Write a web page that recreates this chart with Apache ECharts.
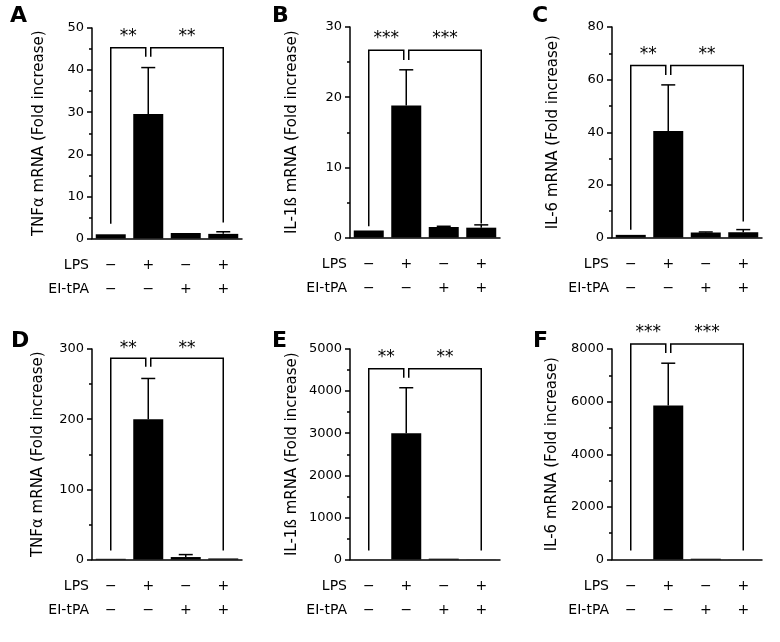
<!DOCTYPE html>
<html>
<head>
<meta charset="utf-8">
<script src="https://cdn.jsdelivr.net/npm/echarts@6/dist/echarts.min.js"></script>
<style>
  html, body { margin: 0; padding: 0; background: #fff; }
  #chart { width: 780px; height: 642px; }
</style>
</head>
<body>
<div id="chart"></div>
<script>
// ---- data ----
const categories = ['Control', 'LPS', 'EI-tPA', 'LPS + EI-tPA'];
const lpsSigns   = ['\u2212', '+', '\u2212', '+'];
const eitpaSigns = ['\u2212', '\u2212', '+', '+'];
const panelLetters = ['A', 'B', 'C', 'D', 'E', 'F'];
const yTitles = [
  'TNF\u03b1 mRNA (Fold increase)',
  'IL-1\u00df mRNA (Fold increase)',
  'IL-6 mRNA (Fold increase)',
  'TNF\u03b1 mRNA (Fold increase)',
  'IL-1\u00df mRNA (Fold increase)',
  'IL-6 mRNA (Fold increase)'
];
const yMax      = [50, 30, 80, 300, 5000, 8000];
const yInterval = [10, 10, 20, 100, 1000, 2000];

// bar means (fold increase)
const meanA = [1.0, 29.6, 1.3, 1.1];
const meanB = [1.0, 18.8, 1.5, 1.4];
const meanC = [1.0, 40.5, 1.9, 2.0];
const meanD = [1.0, 200, 3.5, 1.5];
const meanE = [1.0, 3000, 20, 2];
const meanF = [1.0, 5850, 30, 3];
// upper end of error bars
const errTopA = [1.0, 40.6, 1.4, 1.6];
const errTopB = [1.0, 23.9, 1.6, 1.8];
const errTopC = [1.0, 58.0, 2.1, 3.0];
const errTopD = [1.0, 258, 7, 1.5];
const errTopE = [1.0, 4080, 25, 2];
const errTopF = [1.0, 7460, 35, 3];

// significance brackets: [level, centre-gap bottom, left arm bottom, right arm bottom, star height]
const bracketA = [45.3, 43.2, 3.5, 3.8, 48.4];
const bracketB = [26.7, 25.3, 1.6, 2.0, 28.6];
const bracketC = [65.4, 61.8, 2.9, 6.1, 70.3];
const bracketD = [286.7, 274.7, 13, 13, 303];
const bracketE = [4531, 4317, 214, 214, 4840];
const bracketF = [8190, 7848, 343, 343, 8686];
const starsLeft  = ['**', '***', '**', '**', '**', '***'];
const starsRight = ['**', '***', '**', '**', '**', '***'];

const means = [meanA, meanB, meanC, meanD, meanE, meanF];
const errTops = [errTopA, errTopB, errTopC, errTopD, errTopE, errTopF];
const brackets = [bracketA, bracketB, bracketC, bracketD, bracketE, bracketF];

// ---- layout ----
const gridLeft = [92, 350, 612, 92, 350, 612];
const gridTop  = [28, 27, 27, 349, 349, 349];
const gridH    = 210.5;
const gridW    = 150;
const nameGaps = [45, 50, 51, 46, 50, 52];
const FONT = 'DejaVu Sans';

const chart = echarts.init(document.getElementById('chart'), null, { renderer: 'canvas' });

const grids = [], xAxes = [], yAxes = [], series = [], graphics = [];

for (let p = 0; p < 6; p++) {
  grids.push({ left: gridLeft[p], top: gridTop[p], width: gridW, height: gridH,
               containLabel: false, outerBoundsMode: 'none' });
  xAxes.push({
    type: 'category', gridIndex: p, data: categories,
    axisLine: { show: true, onZero: true, lineStyle: { color: '#000', width: 1.5 } },
    axisTick: { show: false },
    axisLabel: {
      show: true, interval: 0, margin: 15, color: '#000',
      fontFamily: FONT, fontSize: 14, lineHeight: 24,
      formatter: (v, i) => lpsSigns[i] + '\n' + eitpaSigns[i]
    },
    splitLine: { show: false }
  });
  yAxes.push({
    type: 'value', gridIndex: p, min: 0, max: yMax[p], interval: yInterval[p],
    name: yTitles[p], nameLocation: 'middle', nameGap: nameGaps[p],
    nameTextStyle: { color: '#000', fontFamily: FONT, fontSize: 15 },
    axisLine: { show: true, lineStyle: { color: '#000', width: 1.5 } },
    axisTick: { show: true, inside: false, length: 5, lineStyle: { color: '#000', width: 1.5 } },
    minorTick: { show: true, splitNumber: 2, length: 3, lineStyle: { color: '#000', width: 1.5 } },
    axisLabel: { show: true, margin: 8, color: '#000', fontFamily: FONT, fontSize: 13,
                 formatter: v => String(v) },
    splitLine: { show: false },
    minorSplitLine: { show: false }
  });

  series.push({
    type: 'bar', xAxisIndex: p, yAxisIndex: p, data: means[p],
    barWidth: 30, itemStyle: { color: '#000' }, silent: true, z: 2
  });

  const errData = means[p].map((m, i) => [i, m, errTops[p][i]]);
  series.push({
    type: 'custom', xAxisIndex: p, yAxisIndex: p, data: errData, z: 3, silent: true,
    encode: { x: 0, y: 1 },
    renderItem: (params, api) => {
      const base = api.coord([api.value(0), api.value(1)]);
      const top = api.coord([api.value(0), api.value(2)]);
      if (base[1] - top[1] < 0.5) return { type: 'group', children: [] };
      const cx = base[0];
      return { type: 'group', children: [
        { type: 'line', shape: { x1: cx, y1: base[1], x2: cx, y2: top[1] },
          style: { stroke: '#000', lineWidth: 1.5 } },
        { type: 'line', shape: { x1: cx - 7, y1: top[1], x2: cx + 7, y2: top[1] },
          style: { stroke: '#000', lineWidth: 1.5 } }
      ]};
    }
  });

  const b = brackets[p];
  const sl = starsLeft[p], sr = starsRight[p];
  series.push({
    type: 'custom', xAxisIndex: p, yAxisIndex: p, z: 4, silent: true, clip: false,
    data: [[1, b[0], b[1], b[2], b[3], b[4]]],
    encode: { x: 0, y: 1 },
    renderItem: (params, api) => {
      const lvl = api.value(1), gap = api.value(2), lb = api.value(3), rb = api.value(4), sy = api.value(5);
      const x0 = api.coord([0, lvl])[0], x1 = api.coord([1, lvl])[0], x3 = api.coord([3, lvl])[0];
      const yL = api.coord([0, lvl])[1], yG = api.coord([0, gap])[1];
      const yLB = api.coord([0, lb])[1], yRB = api.coord([0, rb])[1], yS = api.coord([0, sy])[1] + 2;
      const g = 2.5;
      const ls = { stroke: '#000', lineWidth: 1.5, fill: null };
      return { type: 'group', children: [
        { type: 'polyline', shape: { points: [[x0, yLB], [x0, yL], [x1 - g, yL], [x1 - g, yG]] }, style: ls },
        { type: 'polyline', shape: { points: [[x1 + g, yG], [x1 + g, yL], [x3, yL], [x3, yRB]] }, style: ls },
        { type: 'text', x: (x0 + x1 - g) / 2, y: yS,
          style: { text: sl, fill: '#000', font: '17px ' + FONT, align: 'center', verticalAlign: 'middle' } },
        { type: 'text', x: (x1 + g + x3) / 2, y: yS,
          style: { text: sr, fill: '#000', font: '17px ' + FONT, align: 'center', verticalAlign: 'middle' } }
      ]};
    }
  });

  // panel letter
  const letterX = [10, 272, 532, 11, 272, 533][p];
  const letterY = p < 3 ? 16 : 341;
  graphics.push({ type: 'text', x: letterX, y: letterY,
    style: { text: panelLetters[p], fill: '#000', font: 'bold 22px ' + FONT, align: 'left', verticalAlign: 'middle' } });
  // row labels
  const axisBottom = gridTop[p] + gridH;
  graphics.push({ type: 'text', x: gridLeft[p] - 3, y: axisBottom + 27,
    style: { text: 'LPS', fill: '#000', font: '14px ' + FONT, align: 'right', verticalAlign: 'middle' } });
  graphics.push({ type: 'text', x: gridLeft[p] - 3, y: axisBottom + 51,
    style: { text: 'EI-tPA', fill: '#000', font: '14px ' + FONT, align: 'right', verticalAlign: 'middle' } });
}

chart.setOption({
  backgroundColor: '#fff',
  animation: false,
  grid: grids,
  xAxis: xAxes,
  yAxis: yAxes,
  series: series,
  graphic: { elements: graphics }
});
</script>
</body>
</html>
